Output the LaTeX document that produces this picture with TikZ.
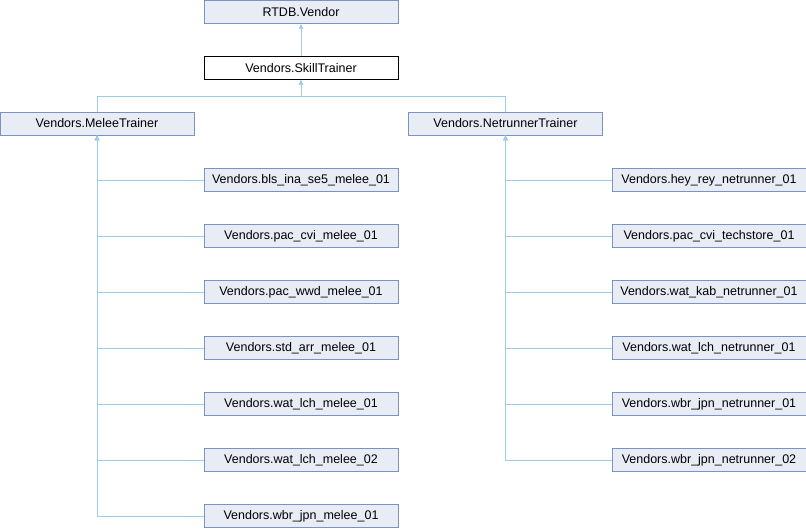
\documentclass[tikz,border=0pt]{standalone}
\usepackage{fontspec}
\setmainfont{Liberation Sans}
\usetikzlibrary{arrows.meta}
\usetikzlibrary{positioning}
\definecolor{boxfill}{RGB}{232,236,244}
\definecolor{boxline}{RGB}{124,146,199}
\definecolor{edgeblue}{RGB}{155,205,232}

\begin{document}
\begin{tikzpicture}[x=1pt, y=-1pt,
    classbox/.style={draw=boxline, fill=boxfill, minimum width=194pt, minimum height=23pt,
        inner sep=0pt, font=\fontsize{12.5}{12.5}\selectfont},
    focusbox/.style={classbox, draw=black, fill=white},
    edge/.style={draw=edgeblue, line width=0.8pt, {Latex[length=5pt,width=5pt]}-}]
    % 1. Fix the page size
    \useasboundingbox (0,0) rectangle (806,528);

    % 2. Top of the hierarchy
    \node[classbox] (vendor) at (301,12) {RTDB.Vendor};
    \node[focusbox] (skill) at (301,68) {Vendors.SkillTrainer};
    \draw[edge] (vendor.south) -- (skill.north);

    % 3. The two trainer classes
    \node[classbox] (melee) at (97,123.5) {Vendors.MeleeTrainer};
    \node[classbox] (netrunner) at (505.5,123.5) {Vendors.NetrunnerTrainer};
    \draw[edge] (skill.south) -- ++(0,17) -| (melee.north);
    \draw[edge] (skill.south) -- ++(0,17) -| (netrunner.north);

    % 4. Melee vendors
    \foreach \name [count=\i] in {bls\_ina\_se5\_melee\_01, pac\_cvi\_melee\_01,
        pac\_wwd\_melee\_01, std\_arr\_melee\_01, wat\_lch\_melee\_01,
        wat\_lch\_melee\_02, wbr\_jpn\_melee\_01} {
        \node[classbox] (m\i) at (301,124+56*\i) {Vendors.\name};
        \draw[edge] (melee.south) |- (m\i.west);
    }

    % 5. Netrunner vendors
    \foreach \name [count=\i] in {hey\_rey\_netrunner\_01, pac\_cvi\_techstore\_01,
        wat\_kab\_netrunner\_01, wat\_lch\_netrunner\_01, wbr\_jpn\_netrunner\_01,
        wbr\_jpn\_netrunner\_02} {
        \node[classbox] (n\i) at (709,124+56*\i) {Vendors.\name};
        \draw[edge] (netrunner.south) |- (n\i.west);
    }
\end{tikzpicture}
\end{document}
